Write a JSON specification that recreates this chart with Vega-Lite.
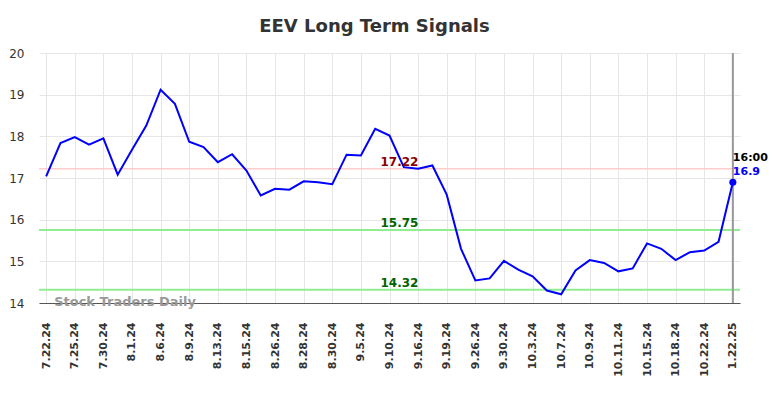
{
  "$schema": "https://vega.github.io/schema/vega-lite/v6.json",
  "width": 701,
  "height": 250,
  "autosize": {"type": "none"},
  "padding": {"left": 39, "top": 53, "right": 44, "bottom": 95},
  "background": "#ffffff",
  "title": {
    "text": "EEV Long Term Signals",
    "font": "DejaVu Sans",
    "fontSize": 18,
    "fontWeight": "bold",
    "color": "#333333",
    "anchor": "middle",
    "dx": -15,
    "offset": 11
  },
  "config": {
    "view": {"stroke": null},
    "axis": {"gridColor": "#e6e6e6", "gridWidth": 1}
  },
  "datasets": {
    "prices": [
      {"date": "7.22.24", "close": 17.04},
      {"date": "7.24.24", "close": 17.84},
      {"date": "7.25.24", "close": 17.98},
      {"date": "7.29.24", "close": 17.80},
      {"date": "7.30.24", "close": 17.95},
      {"date": "7.31.24", "close": 17.08},
      {"date": "8.1.24", "close": 17.68},
      {"date": "8.5.24", "close": 18.26},
      {"date": "8.6.24", "close": 19.12},
      {"date": "8.8.24", "close": 18.78},
      {"date": "8.9.24", "close": 17.87},
      {"date": "8.12.24", "close": 17.74},
      {"date": "8.13.24", "close": 17.38},
      {"date": "8.14.24", "close": 17.57},
      {"date": "8.15.24", "close": 17.18},
      {"date": "8.23.24", "close": 16.58},
      {"date": "8.26.24", "close": 16.74},
      {"date": "8.27.24", "close": 16.72},
      {"date": "8.28.24", "close": 16.92},
      {"date": "8.29.24", "close": 16.90},
      {"date": "8.30.24", "close": 16.85},
      {"date": "9.4.24", "close": 17.56},
      {"date": "9.5.24", "close": 17.54},
      {"date": "9.9.24", "close": 18.18},
      {"date": "9.10.24", "close": 18.02},
      {"date": "9.13.24", "close": 17.26},
      {"date": "9.16.24", "close": 17.22},
      {"date": "9.18.24", "close": 17.30},
      {"date": "9.19.24", "close": 16.60},
      {"date": "9.25.24", "close": 15.30},
      {"date": "9.26.24", "close": 14.54},
      {"date": "9.27.24", "close": 14.59},
      {"date": "9.30.24", "close": 15.01},
      {"date": "10.2.24", "close": 14.80},
      {"date": "10.3.24", "close": 14.64},
      {"date": "10.4.24", "close": 14.30},
      {"date": "10.7.24", "close": 14.21},
      {"date": "10.8.24", "close": 14.78},
      {"date": "10.9.24", "close": 15.03},
      {"date": "10.10.24", "close": 14.96},
      {"date": "10.11.24", "close": 14.76},
      {"date": "10.14.24", "close": 14.83},
      {"date": "10.15.24", "close": 15.43},
      {"date": "10.17.24", "close": 15.30},
      {"date": "10.18.24", "close": 15.03},
      {"date": "10.21.24", "close": 15.22},
      {"date": "10.22.24", "close": 15.26},
      {"date": "10.23.24", "close": 15.47},
      {"date": "1.22.25", "close": 16.90, "time": "16:00"}
    ],
    "levels": [
      {"level": 17.22, "label": "17.22", "kind": "resistance"},
      {"level": 15.75, "label": "15.75", "kind": "support"},
      {"level": 14.32, "label": "14.32", "kind": "support"}
    ],
    "watermark": [{"text": "Stock Traders Daily"}]
  },
  "layer": [
    {
      "data": {"name": "prices"},
      "mark": {"type": "line", "opacity": 0},
      "encoding": {
        "x": {
          "field": "date",
          "type": "ordinal",
          "title": null,
          "scale": {
            "type": "point",
            "padding": 0.5,
            "domain": ["7.22.24","7.24.24","7.25.24","7.29.24","7.30.24","7.31.24","8.1.24","8.5.24","8.6.24","8.8.24","8.9.24","8.12.24","8.13.24","8.14.24","8.15.24","8.23.24","8.26.24","8.27.24","8.28.24","8.29.24","8.30.24","9.4.24","9.5.24","9.9.24","9.10.24","9.13.24","9.16.24","9.18.24","9.19.24","9.25.24","9.26.24","9.27.24","9.30.24","10.2.24","10.3.24","10.4.24","10.7.24","10.8.24","10.9.24","10.10.24","10.11.24","10.14.24","10.15.24","10.17.24","10.18.24","10.21.24","10.22.24","10.23.24","1.22.25"]
          },
          "axis": {
            "values": ["7.22.24","7.25.24","7.30.24","8.1.24","8.6.24","8.9.24","8.13.24","8.15.24","8.26.24","8.28.24","8.30.24","9.5.24","9.10.24","9.16.24","9.19.24","9.26.24","9.30.24","10.3.24","10.7.24","10.9.24","10.11.24","10.15.24","10.18.24","10.22.24","1.22.25"],
            "labelAngle": -90,
            "labelAlign": "right",
            "labelBaseline": "middle",
            "labelFont": "DejaVu Sans",
            "labelFontWeight": "bold",
            "labelFontSize": 11,
            "labelColor": "#333333",
            "labelPadding": 19,
            "labelOverlap": false,
            "labelBound": false,
            "ticks": false,
            "tickSize": 0,
            "domainColor": "#555555",
            "domainWidth": 1,
            "grid": true
          }
        },
        "y": {
          "field": "close",
          "type": "quantitative",
          "title": null,
          "scale": {"domain": [14, 20], "nice": false, "zero": false},
          "axis": {
            "values": [14, 15, 16, 17, 18, 19, 20],
            "labelFont": "DejaVu Sans",
            "labelFontSize": 12,
            "labelColor": "#333333",
            "labelPadding": 15,
            "ticks": false,
            "tickSize": 0,
            "domain": false,
            "grid": true
          }
        }
      }
    },
    {
      "data": {"name": "levels"},
      "transform": [{"filter": "datum.kind == 'resistance'"}],
      "mark": {"type": "rule", "color": "#ffcccc", "strokeWidth": 1.5},
      "encoding": {"y": {"field": "level", "type": "quantitative"}}
    },
    {
      "data": {"name": "levels"},
      "transform": [{"filter": "datum.kind == 'support'"}],
      "mark": {"type": "rule", "color": "#90ee90", "strokeWidth": 2},
      "encoding": {"y": {"field": "level", "type": "quantitative"}}
    },
    {
      "data": {"name": "prices"},
      "transform": [{"filter": "datum.date == '1.22.25'"}],
      "mark": {"type": "rule", "color": "#999999", "strokeWidth": 2},
      "encoding": {"x": {"field": "date", "type": "ordinal"}}
    },
    {
      "data": {"name": "prices"},
      "mark": {"type": "line", "color": "#0000ff", "strokeWidth": 2},
      "encoding": {
        "x": {"field": "date", "type": "ordinal"},
        "y": {"field": "close", "type": "quantitative"}
      }
    },
    {
      "data": {"name": "prices"},
      "transform": [{"filter": "datum.date == '1.22.25'"}],
      "mark": {"type": "point", "filled": true, "color": "#0000ff", "size": 50, "opacity": 1},
      "encoding": {
        "x": {"field": "date", "type": "ordinal"},
        "y": {"field": "close", "type": "quantitative"}
      }
    },
    {
      "data": {"name": "prices"},
      "transform": [{"filter": "datum.date == '1.22.25'"}],
      "mark": {"type": "text", "align": "left", "baseline": "middle", "dy": -24, "font": "DejaVu Sans", "fontWeight": "bold", "fontSize": 11, "color": "#000000"},
      "encoding": {
        "x": {"field": "date", "type": "ordinal"},
        "y": {"field": "close", "type": "quantitative"},
        "text": {"field": "time"}
      }
    },
    {
      "data": {"name": "prices"},
      "transform": [{"filter": "datum.date == '1.22.25'"}],
      "mark": {"type": "text", "align": "left", "baseline": "middle", "dy": -10, "font": "DejaVu Sans", "fontWeight": "bold", "fontSize": 11, "color": "#0000ff"},
      "encoding": {
        "x": {"field": "date", "type": "ordinal"},
        "y": {"field": "close", "type": "quantitative"},
        "text": {"field": "close", "type": "quantitative", "format": ".1f"}
      }
    },
    {
      "data": {"name": "levels"},
      "transform": [{"filter": "datum.kind == 'resistance'"}],
      "mark": {"type": "text", "align": "center", "baseline": "middle", "dx": 10, "dy": -7, "font": "DejaVu Sans", "fontWeight": "bold", "fontSize": 12, "color": "#8b0000"},
      "encoding": {
        "x": {"datum": "9.10.24", "type": "ordinal"},
        "y": {"field": "level", "type": "quantitative"},
        "text": {"field": "label"}
      }
    },
    {
      "data": {"name": "levels"},
      "transform": [{"filter": "datum.kind == 'support'"}],
      "mark": {"type": "text", "align": "center", "baseline": "middle", "dx": 10, "dy": -7, "font": "DejaVu Sans", "fontWeight": "bold", "fontSize": 12, "color": "#006400"},
      "encoding": {
        "x": {"datum": "9.10.24", "type": "ordinal"},
        "y": {"field": "level", "type": "quantitative"},
        "text": {"field": "label"}
      }
    },
    {
      "data": {"name": "watermark"},
      "mark": {"type": "text", "align": "left", "baseline": "middle", "dx": 8, "dy": -1, "font": "DejaVu Sans", "fontWeight": "bold", "fontSize": 13, "color": "#999999"},
      "encoding": {
        "x": {"datum": "7.22.24", "type": "ordinal"},
        "y": {"datum": 14, "type": "quantitative"},
        "text": {"field": "text"}
      }
    }
  ]
}
